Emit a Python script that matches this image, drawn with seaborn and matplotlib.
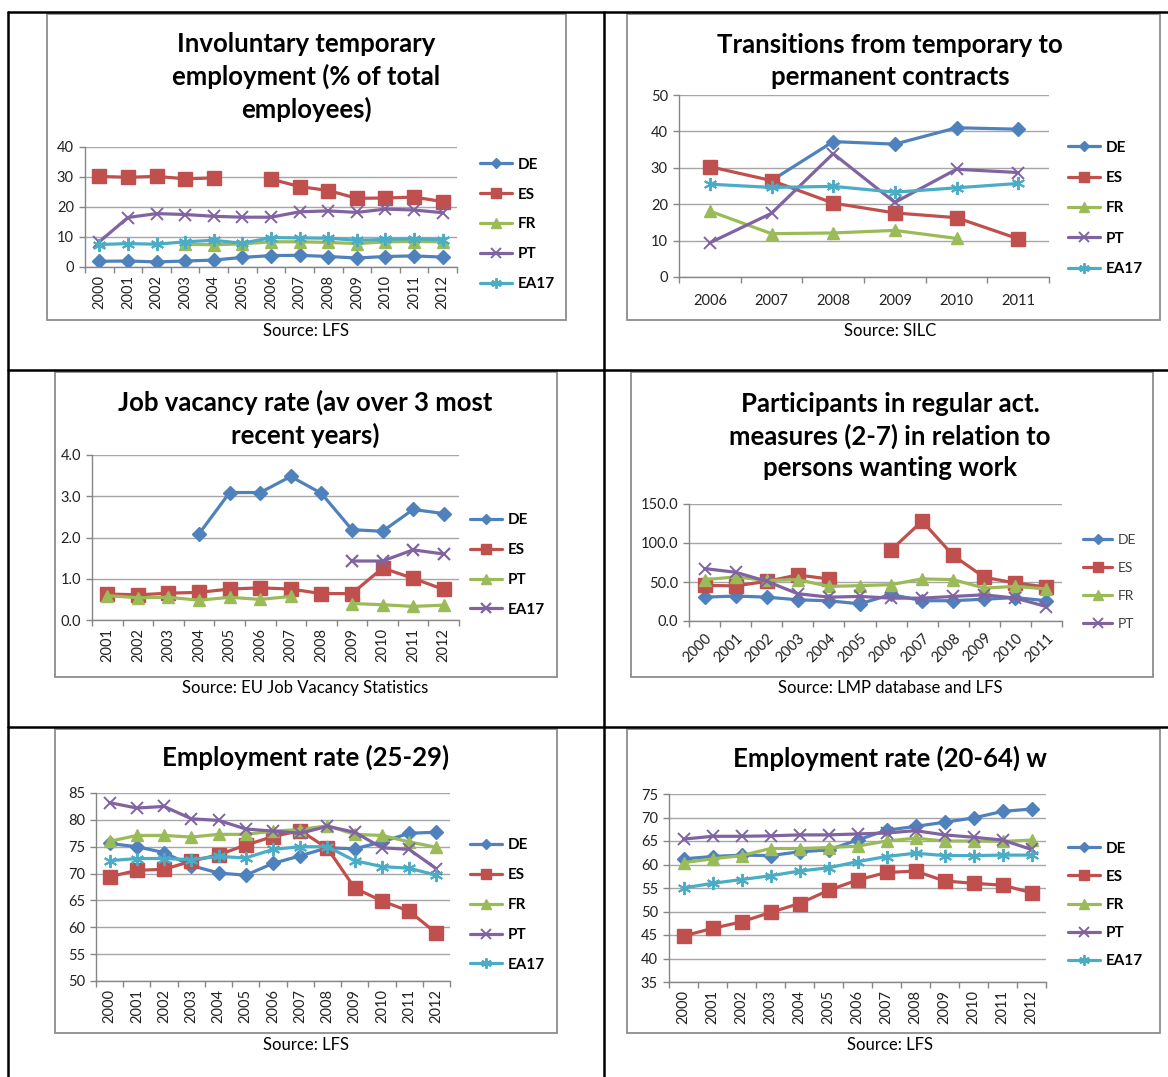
import numpy as np
import pandas as pd
import seaborn as sns
import matplotlib
import matplotlib.pyplot as plt
from matplotlib.lines import Line2D
from matplotlib.patches import Rectangle
from matplotlib.ticker import FormatStrFormatter

matplotlib.use('Agg')

W, H = 1168, 1077
nan = np.nan

years_00_12 = [str(y) for y in range(2000, 2013)]
years_06_11 = [str(y) for y in range(2006, 2012)]
years_01_12 = [str(y) for y in range(2001, 2013)]
years_00_11 = [str(y) for y in range(2000, 2012)]

# involuntary temporary employment (% of total employees)
inv_de = [1.9, 2.0, 1.7, 2.0, 2.3, 3.2, 3.8, 3.9, 3.5, 3.0, 3.5, 3.7, 3.3]
inv_es = [30.2, 29.9, 30.2, 29.4, 29.7, nan, 29.3, 26.8, 25.5, 22.9, 23.0, 23.3, 21.8]
inv_fr = [nan, nan, nan, 7.6, 7.4, 7.7, 8.4, 8.4, 8.2, 7.8, 8.4, 8.5, 8.4]
inv_pt = [8.4, 16.5, 17.8, 17.5, 16.9, 16.6, 16.6, 18.4, 18.7, 18.2, 19.3, 19.0, 18.1]
inv_ea = [7.5, 7.8, 7.6, 8.4, 8.9, 7.9, 9.8, 9.7, 9.6, 8.9, 9.2, 9.4, 9.1]

# transitions from temporary to permanent contracts
tr_de = [nan, 26.5, 37.2, 36.5, 41.0, 40.6]
tr_es = [30.3, 26.5, 20.3, 17.6, 16.3, 10.5]
tr_fr = [18.1, 11.9, 12.1, 12.8, 10.6, nan]
tr_pt = [9.4, 17.5, 33.9, 20.5, 29.6, 28.7]
tr_ea = [25.5, 24.6, 24.9, 23.3, 24.5, 25.7]

# job vacancy rate
jv_de = [nan, nan, nan, 2.09, 3.09, 3.09, 3.48, 3.07, 2.19, 2.15, 2.68, 2.58]
jv_es = [0.63, 0.61, 0.65, 0.67, 0.75, 0.78, 0.75, 0.64, 0.64, 1.26, 1.01, 0.74]
jv_pt = [0.59, 0.54, 0.55, 0.48, 0.55, 0.50, 0.57, nan, 0.40, 0.37, 0.33, 0.36]
jv_ea = [nan, nan, nan, nan, nan, nan, nan, nan, 1.43, 1.43, 1.70, 1.60]

# participants in regular activation measures
lmp_de = [30.6, 32.0, 30.6, 27.2, 25.9, 22.0, 34.0, 26.0, 26.0, 28.0, 30.0, 26.0]
lmp_es = [45.7, 45.0, 50.8, 59.0, 53.9, nan, 91.0, 128.0, 84.0, 56.0, 48.7, 43.5]
lmp_fr = [53.0, 56.5, 52.0, 53.0, 44.4, 45.3, 46.6, 54.0, 53.0, 42.2, 44.4, 41.0]
lmp_pt = [67.2, 62.5, 50.9, 35.0, 30.6, 31.5, 29.3, 29.3, 31.5, 33.6, 29.3, 18.5]

# employment rate 25-29
er25_de = [75.6, 75.0, 73.9, 71.5, 70.1, 69.7, 71.9, 73.3, 74.8, 74.6, 75.9, 77.5, 77.7]
er25_es = [69.4, 70.6, 70.8, 72.3, 73.5, 75.3, 76.9, 78.0, 74.7, 67.3, 64.9, 63.0, 58.9]
er25_fr = [76.0, 77.1, 77.1, 76.8, 77.3, 77.3, 77.9, 78.2, 78.9, 77.3, 77.1, 75.9, 74.9]
er25_pt = [83.2, 82.2, 82.5, 80.2, 79.9, 78.3, 77.9, 77.5, 78.8, 77.7, 74.8, 74.5, 70.9]
er25_ea = [72.4, 72.8, 72.8, 72.6, 73.2, 72.9, 74.5, 75.0, 75.0, 72.4, 71.3, 71.0, 69.7]

# employment rate 20-64
er20_de = [61.2, 61.7, 62.0, 61.9, 62.7, 63.1, 65.2, 67.3, 68.1, 69.0, 69.9, 71.3, 71.8]
er20_es = [44.8, 46.4, 47.8, 49.8, 51.7, 54.5, 56.7, 58.3, 58.6, 56.5, 56.0, 55.6, 54.0]
er20_fr = [60.4, 61.2, 61.9, 63.4, 63.4, 63.6, 63.9, 65.0, 65.6, 65.0, 65.0, 64.9, 65.2]
er20_pt = [65.4, 66.0, 66.0, 66.1, 66.3, 66.3, 66.5, 66.7, 67.2, 66.3, 65.8, 65.2, 63.2]
er20_ea = [55.0, 56.0, 56.8, 57.6, 58.6, 59.3, 60.6, 61.7, 62.4, 61.9, 61.9, 62.0, 62.0]

BLUE, RED, GREEN, PURPLE, CYAN = '#4F81BD', '#C0504D', '#9BBB59', '#8064A2', '#4BACC6'
STAR = (6, 2, 0)
# colour, marker, marker size, edge width
styles = [(BLUE, 'D', 7, 1), (RED, 's', 9.5, 1), (GREEN, '^', 8.5, 1),
          (PURPLE, 'x', 8.5, 1.4), (CYAN, STAR, 9.5, 1.4)]
style_ea_jv = (PURPLE, 'x', 9, 1.6)

grid_gray = '#A6A6A6'
axis_gray = '#868686'

sns.set_theme(style='white')
plt.rcParams['font.family'] = ['Lato', 'DejaVu Sans']

fig = plt.figure(figsize=(W / 100, H / 100), dpi=100)


def fx(x):
    return x / W


def fy(y):
    return 1 - y / H


def make_ax(l, t, r, b):
    return fig.add_axes([fx(l), fy(b), (r - l) / W, (b - t) / H])


def draw_series(ax, values, style):
    color, marker, ms, mew = style
    df = pd.DataFrame({'x': np.arange(len(values)), 'y': values})
    df['seg'] = df['y'].isna().cumsum()
    df = df.dropna()
    sns.lineplot(data=df, x='x', y='y', units='seg', estimator=None, ax=ax,
                 color=color, lw=2.3, marker=marker, markersize=ms,
                 markeredgecolor=color, markerfacecolor=color,
                 markeredgewidth=mew, legend=False)


def setup(ax, labels, ymin, ymax, step, fmt, rot=90):
    n = len(labels)
    ax.set_xlim(-0.5, n - 0.5)
    ax.set_ylim(ymin, ymax)
    ax.set_yticks(np.arange(ymin, ymax + step / 2, step))
    ax.yaxis.set_major_formatter(FormatStrFormatter(fmt))
    ax.set_xticks(range(n))
    if rot == 45:
        ax.set_xticklabels(labels, rotation=45, ha='right', rotation_mode='anchor')
        ax.tick_params(axis='x', which='major', length=0, pad=7, labelsize=10.5)
    elif rot == 0:
        ax.set_xticklabels(labels, rotation=0)
        ax.tick_params(axis='x', which='major', length=0, pad=12, labelsize=10.5)
    else:
        ax.set_xticklabels(labels, rotation=90)
        ax.tick_params(axis='x', which='major', length=0, pad=6, labelsize=10.5)
    ax.set_xticks(np.arange(-0.5, n), minor=True)
    ax.tick_params(axis='x', which='minor', length=4, width=1, color=axis_gray, bottom=True)
    ax.tick_params(axis='y', length=4, width=1, color=axis_gray, left=True, labelsize=10.5, pad=4)
    ax.grid(axis='y', color=grid_gray, lw=1)
    ax.set_axisbelow(True)
    for s in ['top', 'right']:
        ax.spines[s].set_visible(False)
    for s in ['left', 'bottom']:
        ax.spines[s].set_color(axis_gray)
        ax.spines[s].set_linewidth(1)
    ax.set_xlabel('')
    ax.set_ylabel('')
    ax.patch.set_alpha(0)
    for lab in ax.get_xticklabels() + ax.get_yticklabels():
        lab.set_color('#222222')


def legend(ax, names, sty, x, yc, spacing, bold=True, size=11, color='black'):
    handles = []
    for c, m, ms, mew in sty:
        handles.append(Line2D([], [], color=c, lw=2.3, marker=m, markersize=ms * 0.8,
                              markeredgecolor=c, markerfacecolor=c, markeredgewidth=mew))
    leg = ax.legend(handles, names, loc='center left', bbox_to_anchor=(fx(x), fy(yc)),
                    bbox_transform=fig.transFigure, frameon=False, borderpad=0,
                    borderaxespad=0, handlelength=2.1, handletextpad=0.4,
                    labelspacing=spacing,
                    prop={'weight': 'bold' if bold else 'normal', 'size': size})
    for t in leg.get_texts():
        t.set_color(color)


def frame(l, t, r, b):
    fig.add_artist(Rectangle((fx(l), fy(b)), (r - l) / W, (b - t) / H, fill=False,
                             edgecolor='#8C8C8C', lw=1.3, transform=fig.transFigure))


def title(text, x, y, size=18.5):
    fig.text(fx(x), fy(y), text, ha='center', va='center', fontsize=size,
             fontweight='bold', color='black', linespacing=1.38)


def source(text, x, y):
    fig.text(fx(x), fy(y), text, ha='center', va='center', fontsize=12, color='black')


names5 = ['DE', 'ES', 'FR', 'PT', 'EA17']

# table lines
for y in [12, 370, 727]:
    fig.add_artist(Line2D([fx(8), fx(1168)], [fy(y), fy(y)], color='black', lw=1.8,
                          transform=fig.transFigure))
for x in [8, 604]:
    fig.add_artist(Line2D([fx(x), fx(x)], [fy(12), fy(1077)], color='black', lw=1.8,
                          transform=fig.transFigure))

# panel 1
frame(47, 14, 566, 320)
ax1 = make_ax(85, 147, 457, 267)
for vals, st in zip([inv_de, inv_es, inv_fr, inv_pt, inv_ea], styles):
    draw_series(ax1, vals, st)
setup(ax1, years_00_12, 0, 40, 10, '%d')
legend(ax1, names5, styles, 480, 224.5, 1.04)
title('Involuntary temporary\nemployment (% of total\nemployees)', 306, 77)
source('Source: LFS', 306, 331)

# panel 2
frame(627, 14, 1160, 320)
ax2 = make_ax(679, 95, 1049, 277)
for vals, st in zip([tr_de, tr_es, tr_fr, tr_pt, tr_ea], styles):
    draw_series(ax2, vals, st)
setup(ax2, years_06_11, 0, 50, 10, '%d', rot=0)
legend(ax2, names5, styles, 1068, 208.5, 1.07)
title('Transitions from temporary to\npermanent contracts', 890, 61)
source('Source: SILC', 890, 331)

# panel 3
jv_styles = [styles[0], styles[1], styles[2], style_ea_jv]
frame(55, 372, 557, 677)
ax3 = make_ax(92, 455, 459, 620)
for vals, st in zip([jv_de, jv_es, jv_pt, jv_ea], jv_styles):
    draw_series(ax3, vals, st)
setup(ax3, years_01_12, 0, 4, 1, '%.1f')
legend(ax3, ['DE', 'ES', 'PT', 'EA17'], jv_styles, 470, 565, 1.04)
title('Job vacancy rate (av over 3 most\nrecent years)', 305, 419)
source('Source: EU Job Vacancy Statistics', 305, 688)

# panel 4
lmp_styles = styles[:4]
frame(631, 372, 1153, 677)
ax4 = make_ax(689, 504, 1062, 621)
for vals, st in zip([lmp_de, lmp_es, lmp_fr, lmp_pt], lmp_styles):
    draw_series(ax4, vals, st)
setup(ax4, years_00_11, 0, 150, 50, '%.1f', rot=45)
legend(ax4, ['DE', 'ES', 'FR', 'PT'], lmp_styles, 1083, 582, 1.16, bold=False,
       size=10, color='#404040')
title('Participants in regular act.\nmeasures (2-7) in relation to\npersons wanting work', 890, 436)
source('Source: LMP database and LFS', 890, 688)

# panel 5
frame(55, 729, 557, 1033)
ax5 = make_ax(96, 793, 450, 981)
for vals, st in zip([er25_de, er25_es, er25_fr, er25_pt, er25_ea], styles):
    draw_series(ax5, vals, st)
setup(ax5, years_00_12, 50, 85, 5, '%d')
legend(ax5, names5, styles, 470, 905, 1.04)
title('Employment rate (25-29)', 306, 757)
source('Source: LFS', 306, 1045)

# panel 6
frame(627, 729, 1160, 1033)
ax6 = make_ax(669, 794, 1046, 982)
for vals, st in zip([er20_de, er20_es, er20_fr, er20_pt, er20_ea], styles):
    draw_series(ax6, vals, st)
setup(ax6, years_00_12, 35, 75, 5, '%d')
legend(ax6, names5, styles, 1068, 905, 0.93)
title('Employment rate (20-64) w', 890, 758)
source('Source: LFS', 890, 1045)

plt.savefig('out.png', dpi=100)
plt.close()
